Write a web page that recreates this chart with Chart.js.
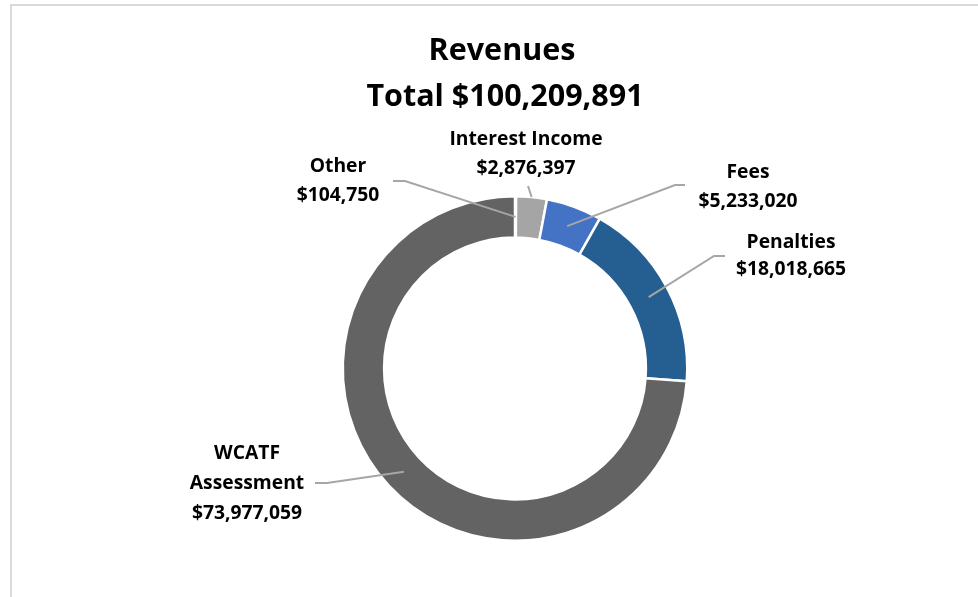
<!DOCTYPE html>
<html>
<head>
<meta charset="utf-8">
<script src="https://cdn.jsdelivr.net/npm/chart.js@4.4.0/dist/chart.umd.min.js"></script>
<style>
  html, body { margin: 0; padding: 0; background: #fff; }
  #wrap { position: relative; width: 978px; height: 597px; overflow: hidden; }
  #frame { position: absolute; left: 10px; top: 4px; width: 980px; height: 600px;
           border-left: 2px solid #d9d9d9; border-top: 2px solid #d9d9d9; }
  canvas { position: absolute; left: 0; top: 0; }
</style>
</head>
<body>
<div id="wrap">
  <div id="frame"></div>
  <canvas id="grafico" width="978" height="597"></canvas>
</div>
<script>
// dados do gráfico (sentido horário a partir do topo)
const categorias = ['Other', 'Interest Income', 'Fees', 'Penalties', 'WCATF Assessment'];
const nomesRotulo = [['Other'], ['Interest Income'], ['Fees'], ['Penalties'], ['WCATF', 'Assessment']];
const valores = [104750, 2876397, 5233020, 18018665, 73977059];
const cores = ['#7f7f7f', '#a5a5a5', '#4472c4', '#255e91', '#636363'];
const tituloLinha1 = 'Revenues';

const fmt = v => '$' + v.toLocaleString('en-US');
const total = valores.reduce((a, b) => a + b, 0);

// posição dos rótulos (centro do texto, y de cada linha, cotovelo da linha guia)
const layoutRotulos = [
  { x: 338, ys: [167, 196], inicio: [393, 181], cotovelo: [405, 181], raio: 'meio' },
  { x: 526, ys: [140, 169], inicio: [528, 186], cotovelo: null, raio: 'fora' },
  { x: 748, ys: [173, 202], inicio: [685, 185], cotovelo: [675, 185], raio: 'meio' },
  { x: 791, ys: [243, 270], inicio: [725, 256], cotovelo: [714, 256], raio: 'meio' },
  { x: 247, ys: [454, 484, 514], inicio: [315, 483], cotovelo: [327, 483], raio: 'meio' }
];

const FONTE = '"Open Sans", sans-serif';

const rotulosPlugin = {
  id: 'rotulos',
  afterDatasetsDraw(chart) {
    const ctx = chart.ctx;
    const meta = chart.getDatasetMeta(0);
    ctx.save();

    // título
    ctx.fillStyle = '#000';
    ctx.textAlign = 'center';
    ctx.textBaseline = 'middle';
    ctx.font = 'bold 30.5px ' + FONTE;
    ctx.fillText(tituloLinha1, 502, 51);
    ctx.fillText('Total ' + fmt(total), 505, 97);

    meta.data.forEach((arc, i) => {
      const p = arc.getProps(['x', 'y', 'startAngle', 'endAngle', 'innerRadius', 'outerRadius'], true);
      const L = layoutRotulos[i];
      const ang = (p.startAngle + p.endAngle) / 2;
      const r = L.raio === 'fora' ? p.outerRadius : (p.innerRadius + p.outerRadius) / 2;
      const fx = p.x + Math.cos(ang) * r;
      const fy = p.y + Math.sin(ang) * r;

      ctx.strokeStyle = '#a6a6a6';
      ctx.lineWidth = 2;
      ctx.beginPath();
      ctx.moveTo(L.inicio[0], L.inicio[1]);
      if (L.cotovelo) ctx.lineTo(L.cotovelo[0], L.cotovelo[1]);
      ctx.lineTo(fx, fy);
      ctx.stroke();

      const linhas = nomesRotulo[i].concat([fmt(valores[i])]);
      ctx.fillStyle = '#000';
      ctx.font = 'bold 19.3px ' + FONTE;
      linhas.forEach((t, k) => ctx.fillText(t, L.x, L.ys[k]));
    });
    ctx.restore();
  }
};

new Chart(document.getElementById('grafico'), {
  type: 'doughnut',
  data: {
    labels: categorias,
    datasets: [{
      data: valores,
      backgroundColor: cores,
      borderColor: '#ffffff',
      borderWidth: 2.5
    }]
  },
  options: {
    responsive: false,
    animation: false,
    cutout: '76%',
    layout: { padding: { top: 195, bottom: 55, left: 300, right: 248 } },
    plugins: { legend: { display: false }, tooltip: { enabled: false } }
  },
  plugins: [rotulosPlugin]
});
</script>
</body>
</html>
